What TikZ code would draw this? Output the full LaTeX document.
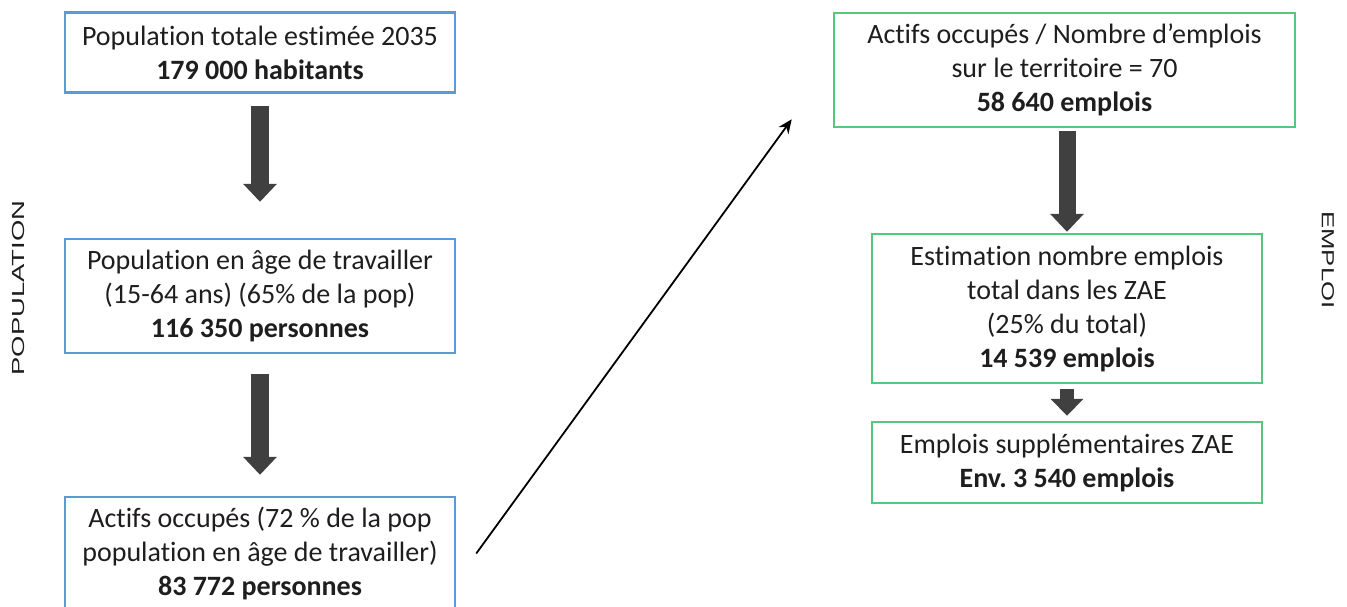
\documentclass[tikz,border=0pt]{standalone}
\usepackage{fontspec}
\setmainfont{Carlito}[Ligatures=NoCommon]
\newfontfamily\labelfont{Liberation Sans}
\usetikzlibrary{arrows.meta}
\definecolor{popblue}{RGB}{91,155,213}
\definecolor{empgreen}{RGB}{84,200,124}
\definecolor{arrowgray}{RGB}{64,64,64}
\definecolor{txtgray}{RGB}{30,30,30}

\begin{document}
\begin{tikzpicture}[x=1pt,y=-1pt,font=\fontsize{28}{34}\selectfont,text=txtgray,
  popbox/.style={draw=popblue,line width=2.5pt,minimum width=390pt,align=center,inner sep=0pt},
  empbox/.style={draw=empgreen,line width=2.5pt,align=center,inner sep=0pt},
  fatarrow/.style={draw=arrowgray,line width=18pt,-{Triangle[width=34pt,length=18pt,line width=0pt]}},
  smallarrow/.style={draw=arrowgray,line width=14pt,-{Triangle[width=33pt,length=17pt,line width=0pt]}},
  thinarrow/.style={draw=black,line width=1.8pt,-{Stealth[length=14pt,width=12pt]}},
  sidelabel/.style={font=\labelfont\fontsize{17.5}{17.5}\selectfont,text=txtgray}]
\useasboundingbox (0,0) rectangle (1347,607);

% population
\node[popbox,minimum height=80pt] (pop) at (260,52.5) {Population totale estimée 2035\\\textbf{179 000 habitants}};
\node[popbox,minimum height=114pt] (age) at (260,296) {Population en âge de travailler\\(15-64 ans) (65\% de la pop)\\\textbf{116 350 personnes}};
\node[popbox,minimum height=113pt] (actifs) at (260,553.5) {Actifs occupés (72 \% de la pop\\population en âge de travailler)\\\textbf{83 772 personnes}};

% emploi
\node[empbox,minimum width=461pt,minimum height=114pt] (ratio) at (1064.5,70) {Actifs occupés / Nombre d’emplois\\sur le territoire = 70\\\textbf{58 640 emplois}};
\node[empbox,minimum width=390pt,minimum height=149pt] (zae) at (1067,308.5) {Estimation nombre emplois\\total dans les ZAE\\(25\% du total)\\\textbf{14 539 emplois}};
\node[empbox,minimum width=390pt,minimum height=81pt] (supp) at (1067,462.5) {Emplois supplémentaires ZAE\\\textbf{Env.\ 3 540 emplois}};

% side labels
\node[sidelabel,rotate=90] (poplabel) at (18,288) {\scalebox{1.57}[1]{POPULATION}};
\node[sidelabel,rotate=-90] (emplabel) at (1328,260) {\scalebox{1.47}[1]{EMPLOI}};

% arrows
\draw[fatarrow,shorten <=12pt,shorten >=36pt] (pop) -- (age);
\draw[fatarrow,shorten <=20pt,shorten >=21pt] (age) -- (actifs);
\draw[fatarrow,line width=17pt,shorten <=3pt,shorten >=1pt] (ratio.south -| zae.north) -- (zae.north);
\draw[smallarrow,shorten <=5pt,shorten >=5pt] (zae) -- (supp);
\draw[thinarrow] ([xshift=20pt]actifs.east) -- ([xshift=-41pt,yshift=9pt]ratio.south west);
\end{tikzpicture}
\end{document}
